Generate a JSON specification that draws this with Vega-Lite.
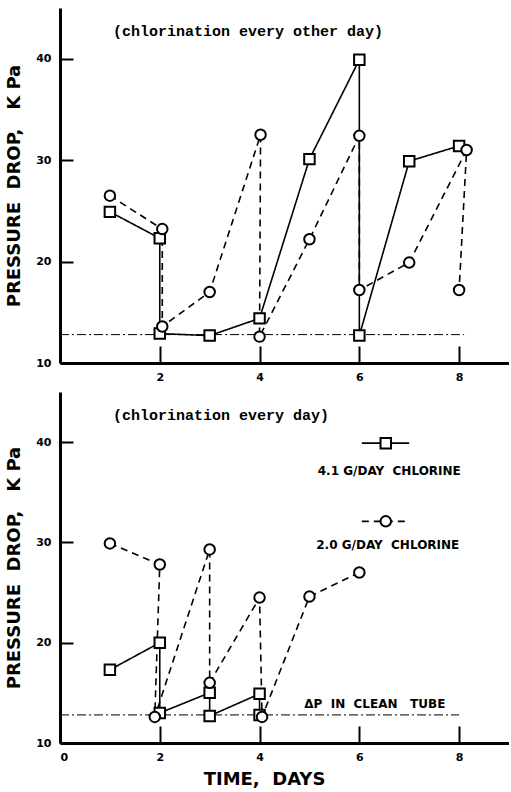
{
  "$schema": "https://vega.github.io/schema/vega-lite/v6.json",
  "background": "white",
  "padding": {"left": 5, "top": 8, "right": 0, "bottom": 2},
  "spacing": 10,
  "config": {
    "view": {"stroke": null},
    "font": "DejaVu Sans",
    "axis": {
      "grid": false,
      "domainColor": "black",
      "domainWidth": 3,
      "tickColor": "black",
      "tickWidth": 2,
      "labelColor": "black",
      "labelFont": "DejaVu Sans",
      "labelFontWeight": "bold",
      "labelFontSize": 11,
      "titleColor": "black",
      "titleFont": "DejaVu Sans",
      "titleFontWeight": "bold",
      "titleFontSize": 18
    }
  },
  "datasets": {
    "pts": [
      {"panel": "top", "series": "41 G/DAY", "ord": 1, "day": 1.0, "kpa": 24.9},
      {"panel": "top", "series": "41 G/DAY", "ord": 2, "day": 2.0, "kpa": 22.3},
      {"panel": "top", "series": "41 G/DAY", "ord": 3, "day": 2.0, "kpa": 12.9},
      {"panel": "top", "series": "41 G/DAY", "ord": 4, "day": 3.0, "kpa": 12.7},
      {"panel": "top", "series": "41 G/DAY", "ord": 5, "day": 4.0, "kpa": 14.4},
      {"panel": "top", "series": "41 G/DAY", "ord": 6, "day": 5.0, "kpa": 30.1},
      {"panel": "top", "series": "41 G/DAY", "ord": 7, "day": 6.0, "kpa": 39.9},
      {"panel": "top", "series": "41 G/DAY", "ord": 8, "day": 6.0, "kpa": 12.7},
      {"panel": "top", "series": "41 G/DAY", "ord": 9, "day": 7.0, "kpa": 29.9},
      {"panel": "top", "series": "41 G/DAY", "ord": 10, "day": 8.0, "kpa": 31.4},
      {"panel": "top", "series": "20 G/DAY", "ord": 1, "day": 1.0, "kpa": 26.5},
      {"panel": "top", "series": "20 G/DAY", "ord": 2, "day": 2.05, "kpa": 23.2},
      {"panel": "top", "series": "20 G/DAY", "ord": 3, "day": 2.05, "kpa": 13.6},
      {"panel": "top", "series": "20 G/DAY", "ord": 4, "day": 3.0, "kpa": 17.0},
      {"panel": "top", "series": "20 G/DAY", "ord": 5, "day": 4.02, "kpa": 32.5},
      {"panel": "top", "series": "20 G/DAY", "ord": 6, "day": 4.0, "kpa": 12.6},
      {"panel": "top", "series": "20 G/DAY", "ord": 7, "day": 5.0, "kpa": 22.2},
      {"panel": "top", "series": "20 G/DAY", "ord": 8, "day": 6.0, "kpa": 32.4},
      {"panel": "top", "series": "20 G/DAY", "ord": 9, "day": 6.0, "kpa": 17.2},
      {"panel": "top", "series": "20 G/DAY", "ord": 10, "day": 7.0, "kpa": 19.9},
      {"panel": "top", "series": "20 G/DAY", "ord": 11, "day": 8.15, "kpa": 31.0},
      {"panel": "top", "series": "20 G/DAY", "ord": 12, "day": 8.0, "kpa": 17.2},
      {"panel": "bottom", "series": "41 G/DAY", "ord": 1, "day": 1.0, "kpa": 17.3},
      {"panel": "bottom", "series": "41 G/DAY", "ord": 2, "day": 2.0, "kpa": 20.0},
      {"panel": "bottom", "series": "41 G/DAY", "ord": 3, "day": 2.0, "kpa": 13.0},
      {"panel": "bottom", "series": "41 G/DAY", "ord": 4, "day": 3.0, "kpa": 15.0},
      {"panel": "bottom", "series": "41 G/DAY", "ord": 5, "day": 3.0, "kpa": 12.7},
      {"panel": "bottom", "series": "41 G/DAY", "ord": 6, "day": 4.0, "kpa": 14.9},
      {"panel": "bottom", "series": "41 G/DAY", "ord": 7, "day": 4.0, "kpa": 12.8},
      {"panel": "bottom", "series": "20 G/DAY", "ord": 1, "day": 1.0, "kpa": 29.9},
      {"panel": "bottom", "series": "20 G/DAY", "ord": 2, "day": 2.0, "kpa": 27.8},
      {"panel": "bottom", "series": "20 G/DAY", "ord": 3, "day": 1.9, "kpa": 12.6},
      {"panel": "bottom", "series": "20 G/DAY", "ord": 4, "day": 3.0, "kpa": 29.3},
      {"panel": "bottom", "series": "20 G/DAY", "ord": 5, "day": 3.0, "kpa": 16.0},
      {"panel": "bottom", "series": "20 G/DAY", "ord": 6, "day": 4.0, "kpa": 24.5},
      {"panel": "bottom", "series": "20 G/DAY", "ord": 7, "day": 4.05, "kpa": 12.6},
      {"panel": "bottom", "series": "20 G/DAY", "ord": 8, "day": 5.0, "kpa": 24.6},
      {"panel": "bottom", "series": "20 G/DAY", "ord": 9, "day": 6.0, "kpa": 27.0}
    ],
    "clean": [
      {"panel": "top", "day": 0, "day2": 8.1, "kpa": 12.8},
      {"panel": "bottom", "day": 0, "day2": 8.0, "kpa": 12.8}
    ],
    "subtitles": [
      {"panel": "top", "day": 1.06, "kpa": 42.7, "label": "(chlorination every other day)"},
      {"panel": "bottom", "day": 1.06, "kpa": 42.7, "label": "(chlorination every day)"}
    ],
    "keylines": [
      {"series": "41 G/DAY", "day": 6.05, "day2": 7.0, "kpa": 39.9},
      {"series": "20 G/DAY", "day": 6.05, "day2": 7.0, "kpa": 32.1}
    ],
    "keypts": [
      {"series": "41 G/DAY", "day": 6.53, "kpa": 39.9},
      {"series": "20 G/DAY", "day": 6.53, "kpa": 32.1}
    ],
    "keylabels": [
      {"day": 6.6, "kpa": 37.1, "label": "4.1 G/DAY\u00a0\u00a0CHLORINE"},
      {"day": 6.57, "kpa": 29.7, "label": "2.0 G/DAY\u00a0\u00a0CHLORINE"},
      {"day": 6.31, "kpa": 13.9, "label": "ΔP\u00a0\u00a0IN\u00a0\u00a0CLEAN\u00a0\u00a0\u00a0TUBE"}
    ]
  },
  "vconcat": [
    {
      "width": 449,
      "height": 355,
      "encoding": {
        "x": {"field": "day", "type": "quantitative", "scale": {"domain": [0, 9], "nice": false, "zero": false},
              "axis": {"values": [2, 4, 6, 8], "tickSize": -17, "labelPadding": 25, "title": null, "format": "d"}},
        "y": {"field": "kpa", "type": "quantitative", "scale": {"domain": [10, 45], "nice": false, "zero": false},
              "axis": {"values": [10, 20, 30, 40], "tickSize": -13, "labelPadding": 22, "title": "PRESSURE\u00a0\u00a0DROP,\u00a0\u00a0\u00a0K\u00a0Pa", "titlePadding": 12}}
      },
      "layer": [
        {
          "data": {"name": "clean"},
          "transform": [{"filter": "datum.panel == 'top'"}],
          "mark": {"type": "rule", "color": "black", "strokeWidth": 1, "strokeDash": [9, 3, 2, 3]},
          "encoding": {"x2": {"field": "day2"}}
        },
        {
          "data": {"name": "pts"},
          "transform": [{"filter": "datum.panel == 'top'"}],
          "mark": {"type": "line", "color": "black", "strokeWidth": 1.6},
          "encoding": {
            "strokeDash": {"field": "series", "type": "nominal", "scale": {"domain": ["41 G/DAY", "20 G/DAY"], "range": [[1, 0], [7, 5]]}, "legend": null},
            "order": {"field": "ord", "type": "quantitative"}
          }
        },
        {
          "data": {"name": "pts"},
          "transform": [{"filter": "datum.panel == 'top'"}],
          "mark": {"type": "point", "filled": true, "fill": "white", "stroke": "black", "strokeWidth": 2, "size": 110, "opacity": 1},
          "encoding": {
            "shape": {"field": "series", "type": "nominal", "scale": {"domain": ["41 G/DAY", "20 G/DAY"], "range": ["square", "circle"]}, "legend": null}
          }
        },
        {
          "data": {"name": "subtitles"},
          "transform": [{"filter": "datum.panel == 'top'"}],
          "mark": {"type": "text", "align": "left", "baseline": "middle", "font": "Liberation Mono", "fontSize": 15, "fontWeight": "bold", "color": "black"},
          "encoding": {"text": {"field": "label"}}
        }
      ]
    },
    {
      "width": 449,
      "height": 351,
      "encoding": {
        "x": {"field": "day", "type": "quantitative", "scale": {"domain": [0, 9], "nice": false, "zero": false},
              "axis": {"values": [0, 2, 4, 6, 8], "tickSize": -17, "labelPadding": 25, "title": "TIME,\u00a0\u00a0DAYS", "titlePadding": 8, "titleX": 204, "format": "d"}},
        "y": {"field": "kpa", "type": "quantitative", "scale": {"domain": [10, 45], "nice": false, "zero": false},
              "axis": {"values": [10, 20, 30, 40], "tickSize": -13, "labelPadding": 22, "title": "PRESSURE\u00a0\u00a0DROP,\u00a0\u00a0\u00a0K\u00a0Pa", "titlePadding": 12}}
      },
      "layer": [
        {
          "data": {"name": "clean"},
          "transform": [{"filter": "datum.panel == 'bottom'"}],
          "mark": {"type": "rule", "color": "black", "strokeWidth": 1, "strokeDash": [9, 3, 2, 3]},
          "encoding": {"x2": {"field": "day2"}}
        },
        {
          "data": {"name": "pts"},
          "transform": [{"filter": "datum.panel == 'bottom'"}],
          "mark": {"type": "line", "color": "black", "strokeWidth": 1.6},
          "encoding": {
            "strokeDash": {"field": "series", "type": "nominal", "scale": {"domain": ["41 G/DAY", "20 G/DAY"], "range": [[1, 0], [7, 5]]}, "legend": null},
            "order": {"field": "ord", "type": "quantitative"}
          }
        },
        {
          "data": {"name": "pts"},
          "transform": [{"filter": "datum.panel == 'bottom'"}],
          "mark": {"type": "point", "filled": true, "fill": "white", "stroke": "black", "strokeWidth": 2, "size": 110, "opacity": 1},
          "encoding": {
            "shape": {"field": "series", "type": "nominal", "scale": {"domain": ["41 G/DAY", "20 G/DAY"], "range": ["square", "circle"]}, "legend": null}
          }
        },
        {
          "data": {"name": "subtitles"},
          "transform": [{"filter": "datum.panel == 'bottom'"}],
          "mark": {"type": "text", "align": "left", "baseline": "middle", "font": "Liberation Mono", "fontSize": 15, "fontWeight": "bold", "color": "black"},
          "encoding": {"text": {"field": "label"}}
        },
        {
          "data": {"name": "keylines"},
          "mark": {"type": "rule", "color": "black", "strokeWidth": 1.6},
          "encoding": {
            "x2": {"field": "day2"},
            "strokeDash": {"field": "series", "type": "nominal", "scale": {"domain": ["41 G/DAY", "20 G/DAY"], "range": [[1, 0], [7, 5]]}, "legend": null}
          }
        },
        {
          "data": {"name": "keypts"},
          "mark": {"type": "point", "filled": true, "fill": "white", "stroke": "black", "strokeWidth": 2, "size": 110, "opacity": 1},
          "encoding": {
            "shape": {"field": "series", "type": "nominal", "scale": {"domain": ["41 G/DAY", "20 G/DAY"], "range": ["square", "circle"]}, "legend": null}
          }
        },
        {
          "data": {"name": "keylabels"},
          "mark": {"type": "text", "align": "center", "baseline": "middle", "font": "DejaVu Sans", "fontSize": 12, "fontWeight": "bold", "color": "black"},
          "encoding": {"text": {"field": "label"}}
        }
      ]
    }
  ]
}
